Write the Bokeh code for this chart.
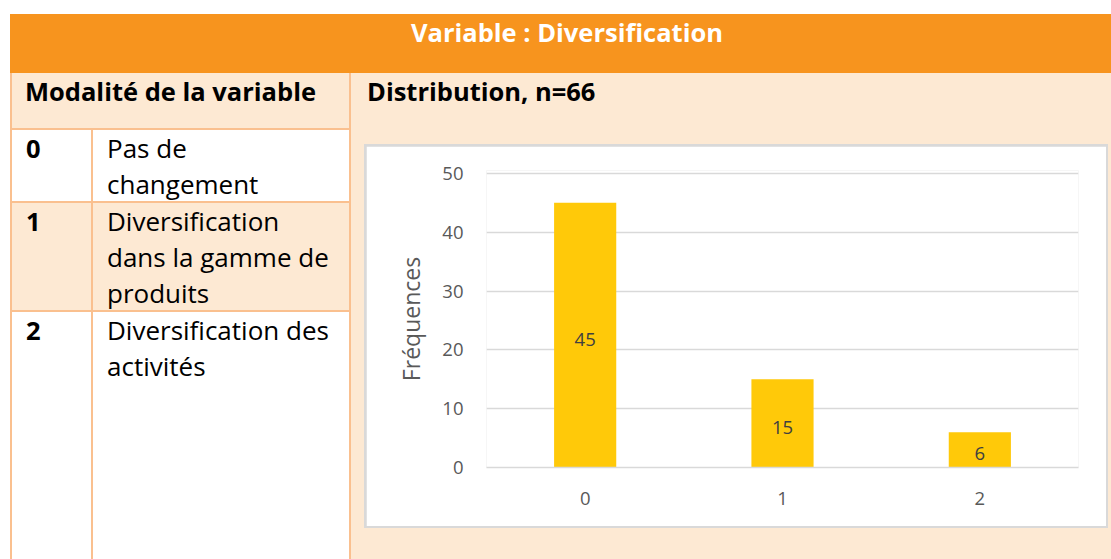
from bokeh.plotting import figure
from bokeh.models import Div, Spacer, Range1d, FixedTicker, ColumnDataSource
from bokeh.layouts import column, row
from bokeh.embed import file_html
from bokeh.resources import INLINE
from bokeh.core.properties import value

# ---------------- data ----------------
table_title = "Variable : Diversification"
col_left_title = "Modalité de la variable"
col_right_title = "Distribution, n=66"
mod_codes = ["0", "1", "2"]
mod_labels = ["Pas de<br>changement",
              "Diversification<br>dans la gamme de<br>produits",
              "Diversification des<br>activités"]
categories = ["0", "1", "2"]
frequencies = [45, 15, 6]
y_ticks = [0, 10, 20, 30, 40, 50]
y_title = "Fréquences"

# ---------------- styles ----------------
ORANGE = "#F7941E"
PEACH = "#FDE9D3"
BORDER = "#FAC08F"
GRAY = "#D9D9D9"
BAR = "#FFC909"
FONT = "Open Sans"
FSB = "25.5px"
FSR = "26px"
NUM = "18.5px"
BODY_H = 486

# ---------------- header ----------------
header = Div(
    text=(f'<div style="position:relative;width:1101px;height:59px;overflow:hidden;">'
          f'<div style="position:absolute;left:0;top:0;width:1114px;text-align:center;'
          f'font-family:{FONT};font-weight:bold;font-size:{FSB};line-height:36px;color:white;">'
          f'{table_title}</div></div>'),
    width=1101, height=59, margin=0, styles={"background-color": ORANGE})

# ---------------- left table ----------------
row_tops = [57, 130, 239]
row_bottoms = [128, 237, BODY_H]
row_bgs = ["white", PEACH, "white"]
parts = [f'<div style="position:relative;width:341px;height:{BODY_H}px;background:{PEACH};'
         f'overflow:hidden;font-family:{FONT};color:black;font-size:{FSR};line-height:36px;">']
parts.append(f'<div style="position:absolute;left:15px;top:0px;font-weight:bold;font-size:{FSB};white-space:nowrap;">{col_left_title}</div>')
for i, (code, lab) in enumerate(zip(mod_codes, mod_labels)):
    t, b = row_tops[i], row_bottoms[i]
    parts.append(f'<div style="position:absolute;left:0;top:{t}px;width:341px;height:{b - t}px;background:{row_bgs[i]};"></div>')
    parts.append(f'<div style="position:absolute;left:0;top:{t - 2}px;width:341px;height:2px;background:{BORDER};"></div>')
    parts.append(f'<div style="position:absolute;left:16px;top:{t}px;font-weight:bold;font-size:{FSB};">{code}</div>')
    parts.append(f'<div style="position:absolute;left:97px;top:{t}px;white-space:nowrap;">{lab}</div>')
parts.append(f'<div style="position:absolute;left:81px;top:55px;width:2px;height:{BODY_H - 55}px;background:{BORDER};"></div>')
parts.append(f'<div style="position:absolute;left:0;top:0;width:2px;height:{BODY_H}px;background:{BORDER};"></div>')
parts.append(f'<div style="position:absolute;left:339px;top:0;width:2px;height:{BODY_H}px;background:{BORDER};"></div>')
parts.append('</div>')
left_div = Div(text="".join(parts), width=341, height=BODY_H, margin=0)

# ---------------- right side ----------------
title_div = Div(
    text=(f'<div style="position:relative;width:760px;height:71px;">'
          f'<div style="position:absolute;left:16px;top:0;font-family:{FONT};font-weight:bold;'
          f'font-size:{FSB};line-height:36px;color:black;white-space:nowrap;">{col_right_title}</div></div>'),
    width=760, height=71, margin=0, styles={"background-color": PEACH})

src = ColumnDataSource(dict(cat=categories, freq=frequencies,
                            mid=[v / 2 for v in frequencies],
                            lab=[str(v) for v in frequencies]))

p = figure(x_range=categories, y_range=Range1d(0, 50.5), width=740, height=380,
           output_backend="svg", toolbar_location=None,
           min_border_left=120, min_border_right=28, min_border_top=24, min_border_bottom=59,
           background_fill_color="white", border_fill_color="white", outline_line_color=None)
p.x_range.range_padding = 0

p.vbar(x="cat", top="freq", width=0.315, source=src, fill_color=BAR, line_color=None)
p.text(x="cat", y="mid", text="lab", source=src, text_align="center", text_baseline="middle",
       y_offset=4, text_color="#404040", text_font=value(FONT), text_font_size=NUM)

p.xgrid.grid_line_color = None
p.ygrid.grid_line_color = GRAY
p.ygrid.grid_line_width = 1.5
p.yaxis.ticker = FixedTicker(ticks=y_ticks)
p.yaxis.axis_line_color = None
p.yaxis.major_tick_line_color = None
p.yaxis.minor_tick_line_color = None
p.yaxis.major_label_standoff = 17
p.yaxis.major_label_text_color = "#595959"
p.yaxis.major_label_text_font = FONT
p.yaxis.major_label_text_font_size = NUM
p.yaxis.axis_label = y_title
p.yaxis.axis_label_text_font = FONT
p.yaxis.axis_label_text_font_style = "normal"
p.yaxis.axis_label_text_font_size = "23px"
p.yaxis.axis_label_text_color = "#595959"
p.yaxis.axis_label_standoff = 12

p.xaxis.axis_line_color = GRAY
p.xaxis.axis_line_width = 1.5
p.xaxis.major_tick_line_color = None
p.xaxis.minor_tick_line_color = None
p.xaxis.major_label_standoff = 18
p.xaxis.major_label_text_color = "#595959"
p.xaxis.major_label_text_font = FONT
p.xaxis.major_label_text_font_size = NUM

chart_box = column(Spacer(height=2, width=744, styles={"background-color": GRAY}),
                   row(Spacer(width=2, height=380, styles={"background-color": GRAY}), p,
                       Spacer(width=2, height=380, styles={"background-color": GRAY})),
                   Spacer(height=2, width=744, styles={"background-color": GRAY}),
                   styles={"background-color": GRAY})

right_col = column(title_div,
                   row(Spacer(width=13, height=384, styles={"background-color": PEACH}), chart_box,
                       Spacer(width=3, height=384, styles={"background-color": PEACH})),
                   Spacer(width=760, height=BODY_H - 71 - 384, styles={"background-color": PEACH}),
                   styles={"background-color": PEACH})

table = column(header, row(left_div, right_col))
root = column(Spacer(height=14, width=1111), row(Spacer(width=10, height=59 + BODY_H), table))

open("out.html", "w").write(file_html(root, INLINE))
